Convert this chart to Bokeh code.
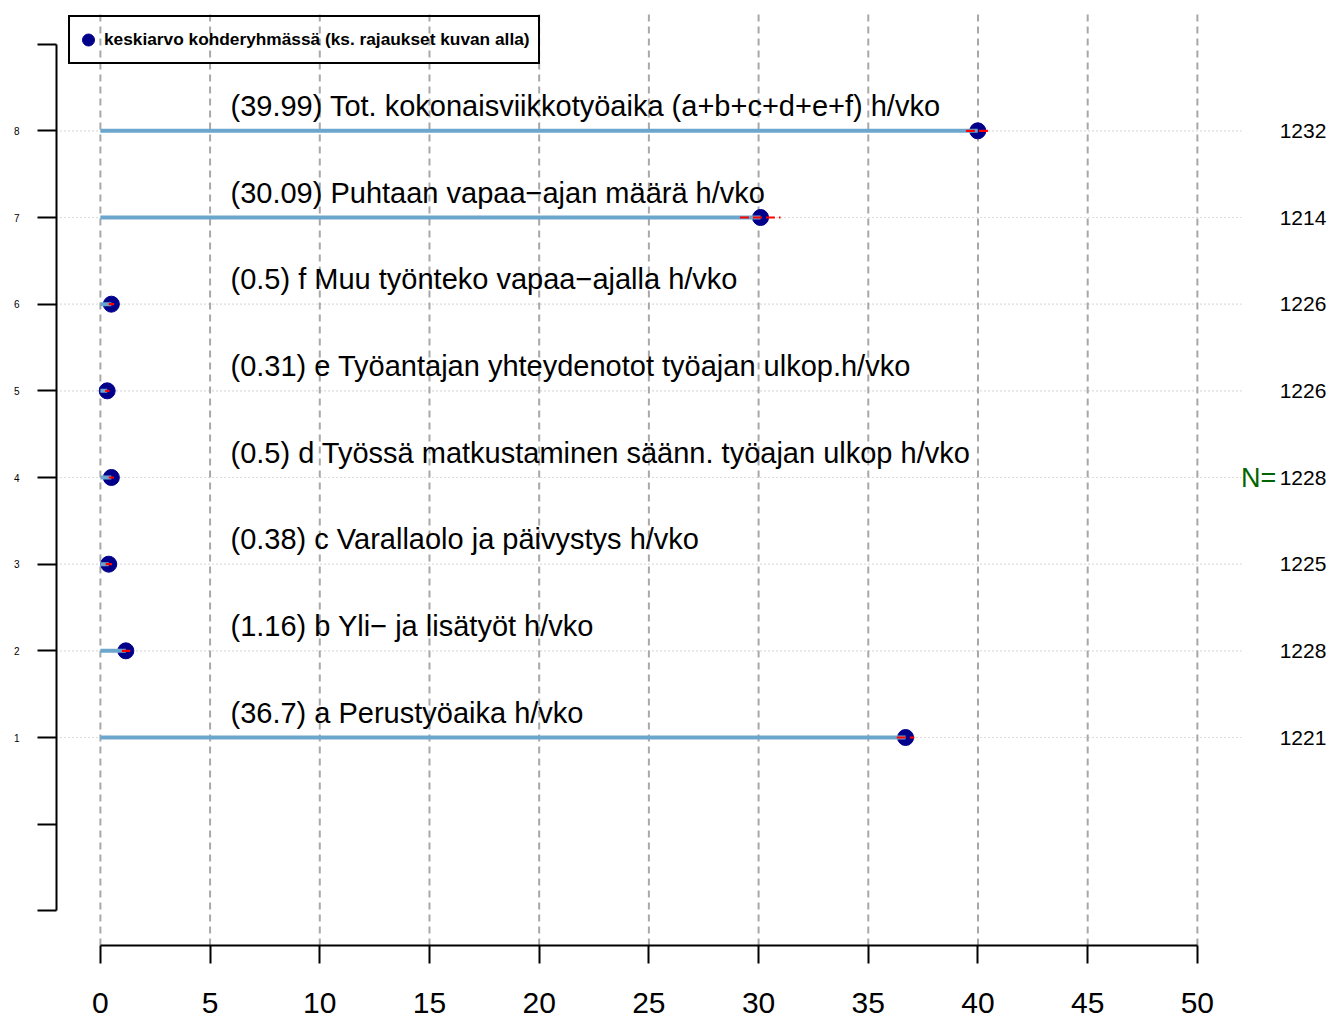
from bokeh.plotting import figure
from bokeh.models import FixedTicker, Legend, LegendItem, Range1d
from bokeh.core.properties import value
from bokeh.embed import file_html
from bokeh.resources import INLINE

# ---- data (rows 1..8, bottom to top) ----
ROWS = [1, 2, 3, 4, 5, 6, 7, 8]
NAMES = [
    "a Perustyöaika h/vko",
    "b Yli− ja lisätyöt h/vko",
    "c Varallaolo ja päivystys h/vko",
    "d Työssä matkustaminen säänn. työajan ulkop h/vko",
    "e Työantajan yhteydenotot työajan ulkop.h/vko",
    "f Muu työnteko vapaa−ajalla h/vko",
    "Puhtaan vapaa−ajan määrä h/vko",
    "Tot. kokonaisviikkotyöaika (a+b+c+d+e+f)  h/vko",
]
MEANS = [36.7, 1.16, 0.38, 0.5, 0.31, 0.5, 30.09, 39.99]
CI_LOW = [36.3, 0.98, 0.24, 0.38, 0.22, 0.38, 29.15, 39.45]
CI_HIGH = [37.1, 1.36, 0.53, 0.62, 0.41, 0.62, 31.0, 40.5]
COUNTS = [1221, 1228, 1225, 1228, 1226, 1226, 1214, 1232]
XTICKS = [0, 5, 10, 15, 20, 25, 30, 35, 40, 45, 50]
YTICKS = [-1, 0, 1, 2, 3, 4, 5, 6, 7, 8, 9]
LEGEND_LABEL = "keskiarvo kohderyhmässä (ks. rajaukset kuvan alla)"

LABELS = [f"({m}) {n}" for m, n in zip(MEANS, NAMES)]
FONT = value("Liberation Sans")

p = figure(width=1343, height=1018,
           x_range=Range1d(-2, 56.66), y_range=Range1d(-1.4, 9.4),
           output_backend="svg", toolbar_location=None,
           min_border_left=56, min_border_right=0,
           min_border_top=9, min_border_bottom=73)
p.xgrid.visible = False
p.ygrid.visible = False
p.outline_line_color = None
p.background_fill_color = "white"

# axes
xa = p.xaxis[0]
xa.ticker = FixedTicker(ticks=XTICKS)
xa.bounds = (0, 50)
xa.major_tick_out = 18
xa.major_tick_in = 0
xa.minor_tick_line_color = None
xa.axis_line_width = 2
xa.major_tick_line_width = 2
xa.major_label_text_font = "Liberation Sans"
xa.major_label_text_font_size = "30px"
xa.major_label_text_color = "black"
xa.major_label_text_line_height = 0.7
xa.major_label_standoff = 29

ya = p.yaxis[0]
ya.ticker = FixedTicker(ticks=YTICKS)
ya.bounds = (-1, 9)
ya.major_tick_out = 19
ya.major_tick_in = 0
ya.minor_tick_line_color = None
ya.axis_line_width = 2
ya.major_tick_line_width = 2
ya.major_label_text_font = "Liberation Sans"
ya.major_label_text_font_size = "10px"
ya.major_label_text_color = "black"
ya.major_label_standoff = 18
ya.major_label_overrides = {t: (str(t) if t in ROWS else "") for t in YTICKS}

# reference lines
p.segment(x0=-2, x1=52, y0=ROWS, y1=ROWS, line_color="#b8b8b8",
          line_width=1.2, line_dash="1 3")
p.segment(x0=XTICKS, x1=XTICKS, y0=-1.4, y1=9.4, line_color="#a8a8a8",
          line_width=2, line_dash="7 5")

# marks
dots = p.scatter(x=MEANS, y=ROWS, size=16, fill_color="#00008B",
                 line_color="#00008B")
p.segment(x0=0, x1=MEANS, y0=ROWS, y1=ROWS, line_color="#6CA6CD",
          line_width=4)
p.segment(x0=CI_LOW, x1=CI_HIGH, y0=ROWS, y1=ROWS, line_color="red",
          line_width=2.2, line_dash="9 4")

# labels
p.text(x=5.93, y=ROWS, text=LABELS, text_font=FONT, text_font_size="29px",
       text_baseline="middle", text_align="left", y_offset=-25,
       text_color="black")
p.text(x=55.88, y=ROWS, text=[str(c) for c in COUNTS], text_font=FONT,
       text_font_size="21px", text_baseline="middle", text_align="right",
       text_color="black")
p.text(x=[53.6], y=[4], text=["N="], text_font=FONT, text_font_size="27px",
       text_baseline="middle", text_align="right", text_color="#006400")

legend = Legend(items=[LegendItem(label=LEGEND_LABEL, renderers=[dots])],
                location=(12, 881), margin=0, padding=3,
                glyph_width=30, glyph_height=39, label_standoff=1,
                label_width=431,
                label_text_font="Liberation Sans",
                label_text_font_style="bold",
                label_text_font_size="17.3px",
                label_text_color="black",
                border_line_color="black", border_line_width=2,
                border_line_alpha=1.0,
                background_fill_alpha=0.0, spacing=0)
p.add_layout(legend)

open("out.html", "w").write(file_html(p, INLINE))
